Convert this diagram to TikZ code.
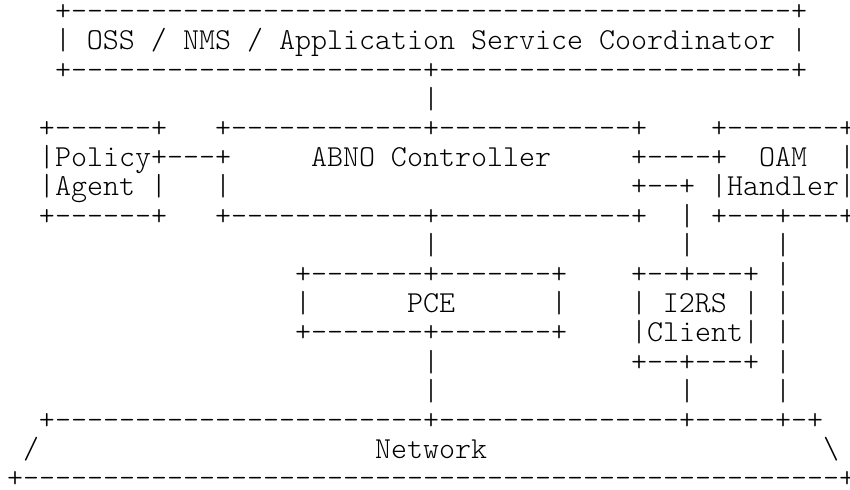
\documentclass[tikz,border=0pt]{standalone}
\usepackage{fontspec}
\setmonofont{lmmonolt10-regular.otf}
\usepackage{tikz}
\newcommand{\dashrun}[1]{\foreach \n in {1,...,#1}{-}}

\begin{document}
\begin{tikzpicture}[
  ascii/.style={anchor=base west, inner sep=0pt, outer sep=0pt,
    font=\ttfamily\fontsize{15.24pt}{14.6pt}\selectfont}
]
  \def\cw{8pt}
  \def\lh{14.6pt}
  \useasboundingbox (-3.5pt,10.4pt) rectangle (421.5pt,-234.6pt);

  % OSS / NMS / Application Service Coordinator
  \node[ascii] (C1) at (3*\cw,0*\lh) {+\dashrun{45}+};
  \node[ascii] (C2) at (3*\cw,-1*\lh) {| OSS / NMS / Application Service Coordinator |};
  \node[ascii] (C3) at (3*\cw,-2*\lh) {+\dashrun{22}+\dashrun{22}+};
  \node[ascii] (C4) at (26*\cw,-3*\lh) {|};

  % Policy Agent
  \node[ascii] (P1) at (2*\cw,-4*\lh) {+\dashrun{6}+};
  \node[ascii] (P2) at (2*\cw,-5*\lh) {|Policy+\dashrun{3}+};
  \node[ascii] (P3) at (2*\cw,-6*\lh) {|Agent |};
  \node[ascii] (P4) at (2*\cw,-7*\lh) {+\dashrun{6}+};

  % ABNO Controller
  \node[ascii] (A1) at (13*\cw,-4*\lh) {+\dashrun{12}+\dashrun{12}+};
  \node[ascii] (A2) at (19*\cw,-5*\lh) {ABNO Controller};
  \node[ascii] (A3) at (13*\cw,-6*\lh) {|};
  \node[ascii] (A4) at (13*\cw,-7*\lh) {+\dashrun{12}+\dashrun{12}+};
  \node[ascii] (A5) at (39*\cw,-5*\lh) {+\dashrun{4}+};
  \node[ascii] (A6) at (39*\cw,-6*\lh) {+\dashrun{2}+};
  \node[ascii] (A7) at (42*\cw,-7*\lh) {|};

  % OAM Handler
  \node[ascii] (H1) at (44*\cw,-4*\lh) {+\dashrun{7}+};
  \node[ascii] (H2) at (47*\cw,-5*\lh) {OAM};
  \node[ascii] (H3) at (52*\cw,-5*\lh) {|};
  \node[ascii] (H4) at (44*\cw,-6*\lh) {|Handler|};
  \node[ascii] (H5) at (44*\cw,-7*\lh) {+\dashrun{3}+\dashrun{3}+};

  % links below the controller
  \node[ascii] (V1) at (26*\cw,-8*\lh) {|};
  \node[ascii] (V2) at (42*\cw,-8*\lh) {|};
  \node[ascii] (V3) at (48*\cw,-8*\lh) {|};
  \node[ascii] (V4) at (48*\cw,-9*\lh) {|};
  \node[ascii] (V5) at (48*\cw,-10*\lh) {|};
  \node[ascii] (V6) at (48*\cw,-11*\lh) {|};
  \node[ascii] (V7) at (48*\cw,-12*\lh) {|};
  \node[ascii] (V8) at (48*\cw,-13*\lh) {|};
  \node[ascii] (V9) at (26*\cw,-12*\lh) {|};
  \node[ascii] (V10) at (26*\cw,-13*\lh) {|};
  \node[ascii] (V11) at (42*\cw,-13*\lh) {|};

  % PCE
  \node[ascii] (E1) at (18*\cw,-9*\lh) {+\dashrun{7}+\dashrun{7}+};
  \node[ascii] (E2) at (18*\cw,-10*\lh) {|};
  \node[ascii] (E3) at (25*\cw,-10*\lh) {PCE};
  \node[ascii] (E4) at (34*\cw,-10*\lh) {|};
  \node[ascii] (E5) at (18*\cw,-11*\lh) {+\dashrun{7}+\dashrun{7}+};

  % I2RS Client
  \node[ascii] (I1) at (39*\cw,-9*\lh) {+\dashrun{2}+\dashrun{3}+};
  \node[ascii] (I2) at (39*\cw,-10*\lh) {| I2RS |};
  \node[ascii] (I3) at (39*\cw,-11*\lh) {|Client|};
  \node[ascii] (I4) at (39*\cw,-12*\lh) {+\dashrun{2}+\dashrun{3}+};

  % Network
  \node[ascii] (N1) at (2*\cw,-14*\lh) {+\dashrun{23}+\dashrun{15}+\dashrun{5}+-+};
  \node[ascii] (N2) at (1*\cw,-15*\lh) {/};
  \node[ascii] (N3) at (23*\cw,-15*\lh) {Network};
  \node[ascii] (N4) at (51*\cw,-15*\lh) {\textbackslash};
  \node[ascii] (N5) at (0*\cw,-16*\lh) {+\dashrun{51}+};

\end{tikzpicture}
\end{document}
